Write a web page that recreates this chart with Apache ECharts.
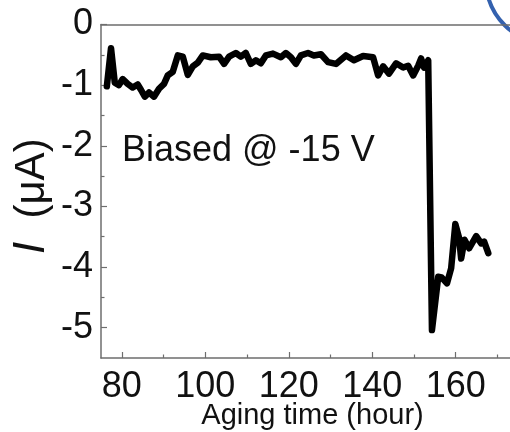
<!DOCTYPE html>
<html>
<head>
<meta charset="utf-8">
<script src="https://cdn.jsdelivr.net/npm/echarts@6/dist/echarts.min.js"></script>
<style>
html,body{margin:0;padding:0;background:#fff;}
#c{width:510px;height:432px;}
</style>
</head>
<body>
<div id="c"></div>
<script>
var hours = [76.4, 77.4, 78.3, 79.3, 80.2, 81.4, 82.6, 83.8, 84.6, 85.5, 86.5, 87.7, 88.9, 90.1, 91.0, 92.2, 93.4, 94.6, 95.8, 97.0, 98.2, 99.4, 101.3, 103.3, 104.5, 105.7, 107.3, 108.5, 109.7, 110.9, 112.1, 113.3, 114.5, 116.2, 118.1, 119.3, 120.5, 121.7, 122.9, 124.6, 126.0, 127.7, 129.4, 131.3, 133.7, 135.6, 137.8, 140.2, 141.4, 142.6, 144.0, 145.7, 147.4, 148.6, 149.8, 151.0, 151.7, 152.4, 153.4, 153.8, 154.3, 155.8, 156.6, 157.9, 158.9, 159.9, 160.8, 161.3, 162.1, 163.2, 163.9, 164.9, 166.1, 166.8, 167.8];
var current = [-1.02, -0.39, -0.96, -1.0, -0.9, -0.98, -1.04, -0.99, -1.08, -1.19, -1.12, -1.19, -1.06, -0.98, -0.84, -0.78, -0.51, -0.53, -0.83, -0.69, -0.63, -0.51, -0.54, -0.53, -0.65, -0.53, -0.47, -0.53, -0.47, -0.65, -0.59, -0.64, -0.51, -0.48, -0.54, -0.47, -0.54, -0.65, -0.51, -0.47, -0.51, -0.49, -0.62, -0.65, -0.51, -0.59, -0.52, -0.54, -0.84, -0.69, -0.81, -0.64, -0.71, -0.68, -0.84, -0.68, -0.56, -0.71, -0.59, -0.6, -5.04, -4.16, -4.17, -4.27, -4.02, -3.29, -3.52, -3.86, -3.55, -3.69, -3.61, -3.49, -3.61, -3.58, -3.77];
var xMajor = [80, 100, 120, 140, 160];
var xMinor = [90, 110, 130, 150, 170];
var yMajor = [0, -1, -2, -3, -4, -5];
var yMinor = [-0.5, -1.5, -2.5, -3.5, -4.5];
var xTitle = 'Aging time (hour)';
var annotation = 'Biased @ -15 V';

var FONT = '"Liberation Sans", Arial, sans-serif';
var AX = '#6e6e6e';
var data = hours.map(function (h, i) { return [h, current[i]]; });

var chart = echarts.init(document.getElementById('c'));
var gridRect = {left: 101, right: 0, top: 24.5, bottom: 74, containLabel: false, outerBoundsMode: 'none'};
function xBase(g) { return {type: 'value', min: 75, max: 173, gridIndex: g, splitLine: {show: false}}; }
function yBase(g) { return {type: 'value', min: -5.5, max: 0, gridIndex: g, splitLine: {show: false}}; }
chart.setOption({
  animation: false,
  backgroundColor: '#fff',
  grid: [Object.assign({}, gridRect), Object.assign({}, gridRect)],
  xAxis: [
    Object.assign(xBase(0), {
      position: 'bottom',
      axisLine: {show: true, onZero: false, lineStyle: {color: AX, width: 1.5}},
      axisTick: {show: true, inside: true, length: 6, customValues: xMajor, lineStyle: {color: AX, width: 1.2}},
      axisLabel: {show: true, customValues: xMajor, margin: 11, color: '#111', fontSize: 36, fontFamily: FONT},
      name: xTitle, nameLocation: 'middle', nameGap: 43, nameMoveOverlap: false,
      nameTextStyle: {color: '#111', fontSize: 29, fontFamily: FONT, padding: [0, 0, 0, 14]}
    }),
    Object.assign(xBase(0), {
      position: 'top',
      axisLine: {show: true, onZero: false, lineStyle: {color: AX, width: 1.5}},
      axisTick: {show: false},
      axisLabel: {show: false}
    }),
    Object.assign(xBase(1), {
      position: 'bottom',
      axisLine: {show: false, onZero: false},
      axisTick: {show: true, inside: true, length: 3.5, customValues: xMinor, lineStyle: {color: AX, width: 1.2}},
      axisLabel: {show: false}
    })
  ],
  yAxis: [
    Object.assign(yBase(0), {
      position: 'left',
      axisLine: {show: true, onZero: false, lineStyle: {color: AX, width: 1.5}},
      axisTick: {show: true, inside: true, length: 6, customValues: yMajor, lineStyle: {color: AX, width: 1.2}},
      axisLabel: {show: true, customValues: yMajor, margin: 8, color: '#111', fontSize: 36, fontFamily: FONT},
      name: '{i|I}  (μA)', nameLocation: 'middle', nameGap: 47, nameRotate: 90, nameMoveOverlap: false,
      nameTextStyle: {color: '#111', fontSize: 42, fontFamily: FONT, padding: [0, 10, 0, 0],
        rich: {i: {fontStyle: 'italic', fontSize: 44, fontFamily: FONT, color: '#111'}}}
    }),
    Object.assign(yBase(1), {
      position: 'left',
      axisLine: {show: false, onZero: false},
      axisTick: {show: true, inside: true, length: 3.5, customValues: yMinor, lineStyle: {color: AX, width: 1.2}},
      axisLabel: {show: false}
    })
  ],
  graphic: [
    {type: 'text', left: 122, top: 133, style: {text: annotation, fontSize: 36, fontFamily: FONT, fill: '#111'}},
    {type: 'arc', shape: {cx: 550, cy: -20, r: 64, startAngle: Math.PI / 2, endAngle: Math.PI},
     style: {stroke: '#3461ae', lineWidth: 4, fill: null}}
  ],
  series: [{
    type: 'line',
    xAxisIndex: 0, yAxisIndex: 0,
    data: data,
    showSymbol: false,
    symbol: 'none',
    lineStyle: {color: '#000', width: 6.5, join: 'round', cap: 'round'},
    z: 5
  }]
});
</script>
</body>
</html>
